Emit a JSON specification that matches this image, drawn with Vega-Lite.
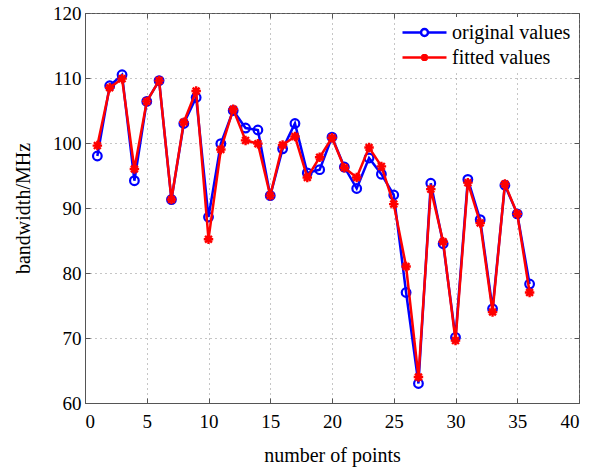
{
  "$schema": "https://vega.github.io/schema/vega-lite/v6.json",
  "width": 494,
  "height": 390,
  "autosize": "none",
  "padding": {"left": 85, "top": 13, "right": 20, "bottom": 67},
  "background": "white",
  "config": {
    "font": "Liberation Serif",
    "view": {"stroke": "#555555", "strokeWidth": 1},
    "axis": {
      "labelFont": "Liberation Serif",
      "labelFontSize": 19,
      "labelColor": "black",
      "titleFont": "Liberation Serif",
      "titleFontSize": 20,
      "titleFontWeight": "normal",
      "titleColor": "black",
      "domainColor": "#555555",
      "tickColor": "#555555",
      "tickSize": -5,
      "gridColor": "#8c8c8c",
      "gridDash": [1, 4],
      "gridWidth": 1
    },
    "legend": {
      "labelFont": "Liberation Serif",
      "labelFontSize": 20,
      "labelColor": "black"
    }
  },
  "data": {
    "values": [
      {"n": 1, "series": "original values", "bw": 98.0},
      {"n": 2, "series": "original values", "bw": 108.8},
      {"n": 3, "series": "original values", "bw": 110.5},
      {"n": 4, "series": "original values", "bw": 94.2},
      {"n": 5, "series": "original values", "bw": 106.4},
      {"n": 6, "series": "original values", "bw": 109.6},
      {"n": 7, "series": "original values", "bw": 91.3},
      {"n": 8, "series": "original values", "bw": 103.0},
      {"n": 9, "series": "original values", "bw": 107.0},
      {"n": 10, "series": "original values", "bw": 88.6},
      {"n": 11, "series": "original values", "bw": 99.9},
      {"n": 12, "series": "original values", "bw": 105.0},
      {"n": 13, "series": "original values", "bw": 102.3},
      {"n": 14, "series": "original values", "bw": 102.0},
      {"n": 15, "series": "original values", "bw": 91.9},
      {"n": 16, "series": "original values", "bw": 99.1},
      {"n": 17, "series": "original values", "bw": 103.0},
      {"n": 18, "series": "original values", "bw": 95.4},
      {"n": 19, "series": "original values", "bw": 95.9},
      {"n": 20, "series": "original values", "bw": 100.9},
      {"n": 21, "series": "original values", "bw": 96.3},
      {"n": 22, "series": "original values", "bw": 93.0},
      {"n": 23, "series": "original values", "bw": 97.7},
      {"n": 24, "series": "original values", "bw": 95.2},
      {"n": 25, "series": "original values", "bw": 92.0},
      {"n": 26, "series": "original values", "bw": 77.0},
      {"n": 27, "series": "original values", "bw": 63.0},
      {"n": 28, "series": "original values", "bw": 93.8},
      {"n": 29, "series": "original values", "bw": 84.5},
      {"n": 30, "series": "original values", "bw": 70.1},
      {"n": 31, "series": "original values", "bw": 94.4},
      {"n": 32, "series": "original values", "bw": 88.2},
      {"n": 33, "series": "original values", "bw": 74.5},
      {"n": 34, "series": "original values", "bw": 93.5},
      {"n": 35, "series": "original values", "bw": 89.1},
      {"n": 36, "series": "original values", "bw": 78.3},
      {"n": 1, "series": "fitted values", "bw": 99.6},
      {"n": 2, "series": "fitted values", "bw": 108.5},
      {"n": 3, "series": "fitted values", "bw": 109.9},
      {"n": 4, "series": "fitted values", "bw": 96.0},
      {"n": 5, "series": "fitted values", "bw": 106.4},
      {"n": 6, "series": "fitted values", "bw": 109.6},
      {"n": 7, "series": "fitted values", "bw": 91.3},
      {"n": 8, "series": "fitted values", "bw": 103.2},
      {"n": 9, "series": "fitted values", "bw": 108.0},
      {"n": 10, "series": "fitted values", "bw": 85.2},
      {"n": 11, "series": "fitted values", "bw": 99.0},
      {"n": 12, "series": "fitted values", "bw": 105.2},
      {"n": 13, "series": "fitted values", "bw": 100.4},
      {"n": 14, "series": "fitted values", "bw": 99.9},
      {"n": 15, "series": "fitted values", "bw": 91.9},
      {"n": 16, "series": "fitted values", "bw": 99.7},
      {"n": 17, "series": "fitted values", "bw": 101.0},
      {"n": 18, "series": "fitted values", "bw": 94.7},
      {"n": 19, "series": "fitted values", "bw": 97.8},
      {"n": 20, "series": "fitted values", "bw": 100.8},
      {"n": 21, "series": "fitted values", "bw": 96.2},
      {"n": 22, "series": "fitted values", "bw": 94.7},
      {"n": 23, "series": "fitted values", "bw": 99.3},
      {"n": 24, "series": "fitted values", "bw": 96.4},
      {"n": 25, "series": "fitted values", "bw": 90.6},
      {"n": 26, "series": "fitted values", "bw": 81.0},
      {"n": 27, "series": "fitted values", "bw": 64.0},
      {"n": 28, "series": "fitted values", "bw": 92.9},
      {"n": 29, "series": "fitted values", "bw": 84.8},
      {"n": 30, "series": "fitted values", "bw": 69.6},
      {"n": 31, "series": "fitted values", "bw": 93.9},
      {"n": 32, "series": "fitted values", "bw": 87.7},
      {"n": 33, "series": "fitted values", "bw": 74.0},
      {"n": 34, "series": "fitted values", "bw": 93.7},
      {"n": 35, "series": "fitted values", "bw": 89.1},
      {"n": 36, "series": "fitted values", "bw": 77.0}
    ]
  },
  "resolve": {"axis": {"x": "independent", "y": "independent"}},
  "layer": [
    {
      "transform": [{"filter": "datum.series === 'original values'"}],
      "mark": {"type": "line", "strokeWidth": 2.5},
      "encoding": {
        "x": {
          "field": "n", "type": "quantitative",
          "scale": {"domain": [0, 40], "nice": false, "zero": false},
          "axis": {
            "orient": "bottom", "values": [0, 5, 10, 15, 20, 25, 30, 35, 40], "grid": true,
            "title": "number of points", "labelPadding": 14, "titlePadding": 14,
            "encode": {"labels": {"update": {"font": {"value": "Liberation Serif"}, "fontSize": {"value": 19}}}}
          }
        },
        "y": {
          "field": "bw", "type": "quantitative",
          "scale": {"domain": [60, 120], "nice": false, "zero": false},
          "axis": {
            "orient": "left", "values": [60, 70, 80, 90, 100, 110, 120], "grid": true,
            "title": "bandwidth/MHz", "labelPadding": 9, "titlePadding": 19,
            "encode": {"labels": {"update": {"font": {"value": "Liberation Serif"}, "fontSize": {"value": 19}}}}
          }
        },
        "color": {
          "field": "series", "type": "nominal",
          "scale": {"domain": ["original values", "fitted values"], "range": ["#0000ff", "#ff0000"]},
          "legend": {
            "title": null,
            "orient": "top-right",
            "offset": 4,
            "padding": 4,
            "fillColor": "white",
            "symbolSize": 400,
            "symbolStrokeWidth": 2.5,
            "symbolFillColor": "transparent",
            "labelOffset": 16,
            "rowPadding": 3,
            "encode": {
              "symbols": {
                "update": {
                  "shape": {"signal": "datum.value === 'original values' ? 'M-2.2,0L-0.35,0M0.35,0L2.2,0M-0.35,0A0.35,0.35 0 1,1 0.35,0A0.35,0.35 0 1,1 -0.35,0' : 'M-2.2,0L2.2,0M0,-0.35L0,0.35M-0.27,-0.27L0.27,0.27M-0.27,0.27L0.27,-0.27'"}
                }
              }
            }
          }
        }
      }
    },
    {
      "transform": [{"filter": "datum.series === 'original values'"}],
      "mark": {"type": "point", "shape": "circle", "filled": false, "size": 75, "strokeWidth": 2.2, "opacity": 1},
      "encoding": {
        "x": {
          "field": "n", "type": "quantitative",
          "axis": {"orient": "top", "values": [0, 5, 10, 15, 20, 25, 30, 35, 40], "labels": false, "grid": false, "title": null, "domain": false}
        },
        "y": {
          "field": "bw", "type": "quantitative",
          "axis": {"orient": "right", "values": [60, 70, 80, 90, 100, 110, 120], "labels": false, "grid": false, "title": null, "domain": false}
        },
        "color": {"field": "series", "type": "nominal", "legend": null}
      }
    },
    {
      "transform": [{"filter": "datum.series === 'fitted values'"}],
      "mark": {"type": "line", "strokeWidth": 2.5},
      "encoding": {
        "x": {"field": "n", "type": "quantitative", "axis": null},
        "y": {"field": "bw", "type": "quantitative", "axis": null},
        "color": {"field": "series", "type": "nominal"}
      }
    },
    {
      "transform": [{"filter": "datum.series === 'fitted values'"}],
      "mark": {"type": "point", "shape": "M-1,0L1,0M0,-1L0,1M-0.72,-0.72L0.72,0.72M-0.72,0.72L0.72,-0.72", "filled": false, "size": 90, "strokeWidth": 2.4, "opacity": 1},
      "encoding": {
        "x": {"field": "n", "type": "quantitative", "axis": null},
        "y": {"field": "bw", "type": "quantitative", "axis": null},
        "color": {"field": "series", "type": "nominal", "legend": null}
      }
    }
  ]
}
